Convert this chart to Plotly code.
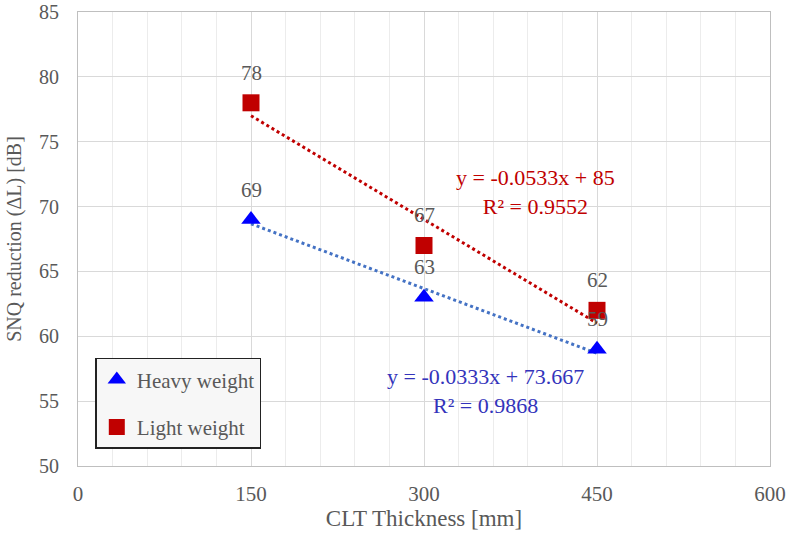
import plotly.graph_objects as go

thickness = [150, 300, 450]
heavy = [69, 63, 59]
light = [78, 67, 62]
heavy_fit = (-0.0333, 73.667)
light_fit = (-0.0533, 85)
x_ticks = [0, 150, 300, 450, 600]
y_ticks = [50, 55, 60, 65, 70, 75, 80, 85]

FONT = "Liberation Serif, Times New Roman, serif"
GRAY = "#595959"
RED = "#C00000"
BLUE = "#0000FF"
BLUE_LINE = "#4472C4"
BLUE_TXT = "#3333BB"

fig = go.Figure()

trend_x = [thickness[0], thickness[-1]]
fig.add_trace(go.Scatter(x=trend_x, y=[light_fit[0]*v + light_fit[1] for v in trend_x],
                         mode="lines", line=dict(color=RED, width=3, dash="dot"),
                         showlegend=False, hoverinfo="skip"))
fig.add_trace(go.Scatter(x=trend_x, y=[heavy_fit[0]*v + heavy_fit[1] for v in trend_x],
                         mode="lines", line=dict(color=BLUE_LINE, width=3, dash="dot"),
                         showlegend=False, hoverinfo="skip"))

fig.add_trace(go.Scatter(x=thickness, y=heavy, mode="markers", name="Heavy weight",
                         legendgroup="h",
                         marker=dict(symbol="triangle-up", size=17, color=BLUE)))
fig.add_trace(go.Scatter(x=thickness, y=light, mode="markers", name="Light weight",
                         legendgroup="l",
                         marker=dict(symbol="square", size=17, color=RED)))

for xs, ys in ((thickness, heavy), (thickness, light)):
    for xv, yv in zip(xs, ys):
        fig.add_annotation(x=xv, y=yv, text=str(yv), showarrow=False, yshift=30,
                           font=dict(family=FONT, size=21, color=GRAY))

fig.add_annotation(x=397, y=71.1, text="y = -0.0533x + 85<br>R² = 0.9552", showarrow=False,
                   font=dict(family=FONT, size=22, color=RED), align="center")
fig.add_annotation(x=353, y=55.8, text="y = -0.0333x + 73.667<br>R² = 0.9868", showarrow=False,
                   font=dict(family=FONT, size=22, color=BLUE_TXT), align="center")

fig.update_layout(
    width=790, height=536,
    margin=dict(l=78, r=20, t=12, b=70, autoexpand=False),
    paper_bgcolor="white", plot_bgcolor="white",
    font=dict(family=FONT, size=20, color=GRAY),
    legend=dict(x=0.025, y=0.238, xanchor="left", yanchor="top",
                bgcolor="#f7f7f7", bordercolor="#222222", borderwidth=1.5,
                font=dict(family=FONT, size=21, color=GRAY),
                traceorder="grouped", tracegroupgap=17),
    xaxis=dict(range=[0, 600], tickvals=x_ticks, showgrid=True, gridcolor="#d9d9d9",
               minor=dict(dtick=30, showgrid=True, gridcolor="#ececec"),
               showline=True, linecolor="#bfbfbf", mirror=True, zeroline=False,
               ticks="", ticklabelstandoff=9, tickfont=dict(size=21, color=GRAY),
               title=dict(text="CLT Thickness [mm]", font=dict(size=23, color=GRAY), standoff=4)),
    yaxis=dict(range=[50, 85], tickvals=y_ticks, showgrid=True, gridcolor="#d9d9d9",
               showline=True, linecolor="#bfbfbf", mirror=True, zeroline=False,
               ticks="", ticklabelstandoff=14, tickfont=dict(size=20, color=GRAY),
               title=dict(text="SNQ reduction (ΔL) [dB]", font=dict(size=20, color=GRAY), standoff=12)),
)

fig.write_html("out.html", config={"displayModeBar": False},
               post_script="document.body.style.margin='0px';")
